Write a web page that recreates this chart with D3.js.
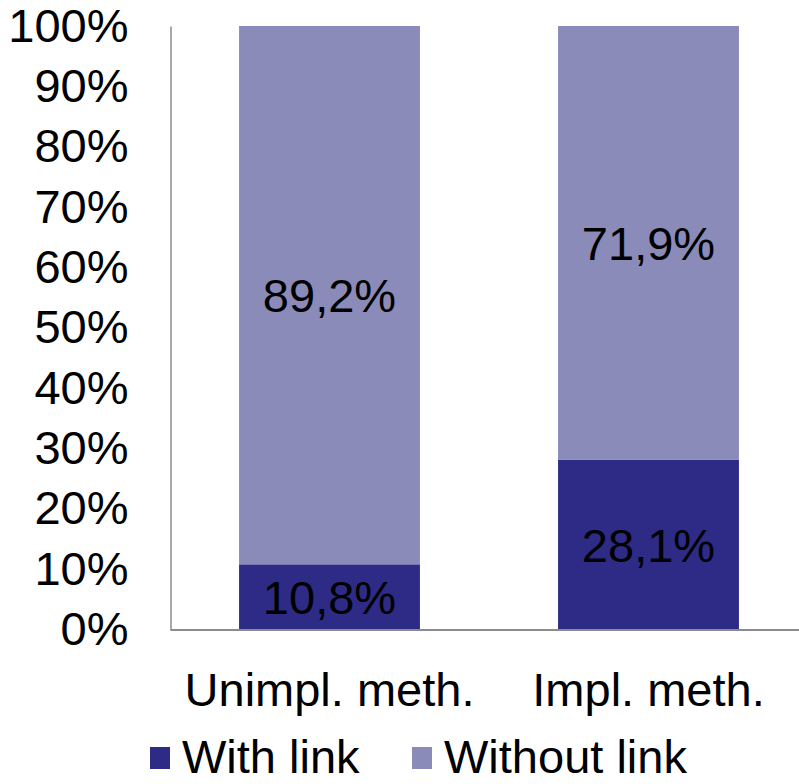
<!DOCTYPE html>
<html>
<head>
<meta charset="utf-8">
<script src="https://cdn.jsdelivr.net/npm/d3@7"></script>
<style>
  html, body { margin: 0; padding: 0; background: #fff; }
  svg { display: block; font-family: "Liberation Sans", Arial, sans-serif; }
</style>
</head>
<body>
<svg id="chart" width="799" height="784"></svg>
<script>
// Share of methods with / without a link, per method type
const categories = ["Unimpl. meth.", "Impl. meth."];
const withLink = [10.8, 28.1];
const withoutLink = [89.2, 71.9];
const seriesNames = ["With link", "Without link"];
const seriesColors = ["#2D2B86", "#8A8BB8"];
const yTicks = [0, 10, 20, 30, 40, 50, 60, 70, 80, 90, 100];

const svg = d3.select("#chart");
const fontSize = 47;

const x = d3.scaleBand()
  .domain(categories)
  .range([170, 808])
  .paddingInner(0.433)
  .paddingOuter(0.2165);

const y = d3.scaleLinear().domain([0, 100]).range([629.5, 26]);

const rows = categories.map((c, i) => ({ cat: c, "With link": withLink[i], "Without link": withoutLink[i] }));
const stacked = d3.stack().keys(seriesNames)(rows);

// Stacked bars
const layers = svg.append("g").selectAll("g")
  .data(stacked)
  .join("g")
  .attr("fill", (d, i) => seriesColors[i]);

layers.selectAll("rect")
  .data(d => d)
  .join("rect")
  .attr("x", d => x(d.data.cat))
  .attr("width", x.bandwidth())
  .attr("y", d => y(d[1]))
  .attr("height", d => y(d[0]) - y(d[1]));

// Value labels in the middle of each segment
const fmt = v => d3.format(".1f")(v).replace(".", ",") + "%";
layers.selectAll("text")
  .data((d) => d.map(p => ({ p, key: d.key })))
  .join("text")
  .attr("x", d => x(d.p.data.cat) + x.bandwidth() / 2)
  .attr("y", d => y((d.p[0] + d.p[1]) / 2))
  .attr("dy", "0.36em")
  .attr("text-anchor", "middle")
  .attr("fill", "#000")
  .style("font-size", fontSize + "px")
  .text(d => fmt(d.p.data[d.key]));

// Y axis
const yAxis = svg.append("g")
  .attr("transform", "translate(170.5,0)")
  .call(d3.axisLeft(y).tickValues(yTicks).tickSize(0).tickPadding(42).tickFormat(d => d + "%"));
yAxis.select(".domain").attr("stroke", "#8c8c8c").attr("stroke-width", 1.5);
yAxis.selectAll("text")
  .attr("fill", "#000")
  .style("font-size", fontSize + "px")
  .style("font-family", "Liberation Sans, Arial, sans-serif");

// X axis
const xAxis = svg.append("g")
  .attr("transform", "translate(0,629.5)")
  .call(d3.axisBottom(x).tickSize(0).tickPadding(43));
xAxis.select(".domain").attr("stroke", "#8c8c8c").attr("stroke-width", 2);
xAxis.selectAll("text")
  .attr("fill", "#000")
  .style("font-size", fontSize + "px")
  .style("font-family", "Liberation Sans, Arial, sans-serif");

// Legend
const legendX = [150, 412];
const legend = svg.append("g").selectAll("g")
  .data(seriesNames)
  .join("g")
  .attr("transform", (d, i) => `translate(${legendX[i]},747)`);
legend.append("rect")
  .attr("width", 20).attr("height", 22)
  .attr("fill", (d, i) => seriesColors[i]);
legend.append("text")
  .attr("x", 32).attr("y", 26)
  .attr("fill", "#000")
  .style("font-size", fontSize + "px")
  .text(d => d);
</script>
</body>
</html>
